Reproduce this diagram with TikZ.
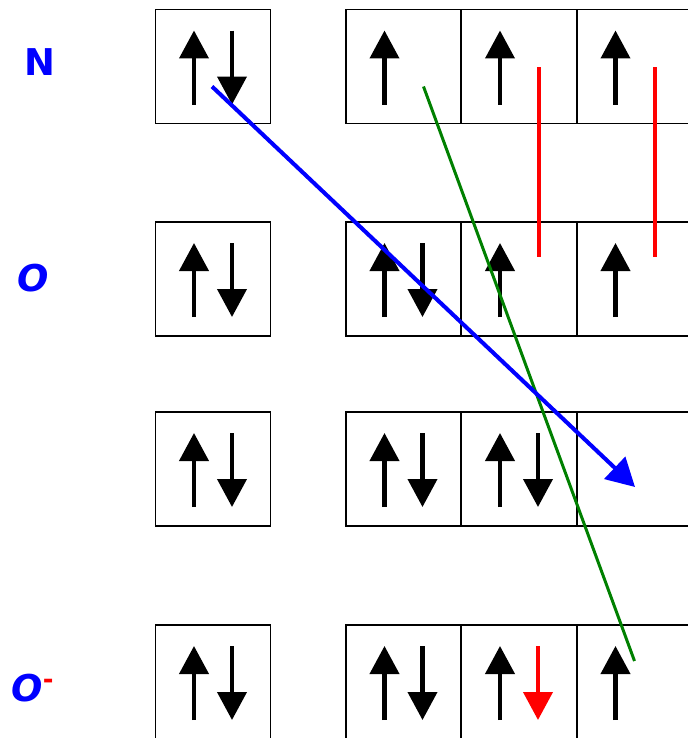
\documentclass[tikz,border=0pt]{standalone}
\usepackage{fontspec}
\setsansfont{DejaVu Sans}
\usepackage{tikz}
\usetikzlibrary{calc,arrows.meta}
\usepackage{xcolor}
\definecolor{spingreen}{RGB}{0,128,0}

\tikzset{
    orbital/.style={draw, line width=1.1pt, minimum width=2.3cm, minimum height=2.28cm, inner sep=0pt},
    spin/.style={line width=2.3pt, -{Triangle[length=0.56cm, width=0.58cm]}},
    atomlabel/.style={blue, font=\sffamily\bfseries\fontsize{21}{24}\selectfont}
}

\begin{document}
\begin{tikzpicture}[x=0.02cm, y=-0.02cm]
    \clip (0,0) rectangle (688,738);
    % Labels
    \node[atomlabel] (labN) at (40,62) {N};
    \node[atomlabel, font=\sffamily\bfseries\itshape\fontsize{21}{24}\selectfont] (labO) at (33,278) {O};
    \node[atomlabel, font=\sffamily\bfseries\itshape\fontsize{21}{24}\selectfont] (labOm) at (33,688)
        {O\textsuperscript{\textcolor{red}{\upshape -}}};
    % 2s boxes
    \node[orbital] (s1) at (213,66.5) {};
    \node[orbital] (s2) at (213,279) {};
    \node[orbital] (s3) at (213,469) {};
    \node[orbital] (s4) at (213,682) {};
    % 2p boxes
    \foreach \r/\y in {1/66.5, 2/279, 3/469, 4/682} {
        \node[orbital] (a\r) at (403.5,\y) {};
        \node[orbital] (b\r) at (519,\y) {};
        \node[orbital] (c\r) at (634.5,\y) {};
    }
    % Electrons
    \foreach \n in {s1,a1,b1,c1,s2,a2,b2,c2,s3,a3,b3,s4,a4,b4,c4}
        \draw[spin] ($(\n)+(-19,38)$) -- ($(\n)+(-19,-36)$);
    \foreach \n in {s1,s2,a2,s3,a3,b3,s4,a4}
        \draw[spin] ($(\n)+(19,-36)$) -- ($(\n)+(19,38)$);
    \draw[spin, red] ($(b4)+(19,-36)$) -- ($(b4)+(19,38)$);
    % Red bars
    \draw[red, line width=2.8pt] ($(b1)+(20,0.5)$) -- ($(b2)+(20,-22)$);
    \draw[red, line width=2.8pt] ($(c1)+(20.5,0.5)$) -- ($(c2)+(20.5,-22)$);
    % Green line
    \draw[spingreen, line width=1.7pt] ($(a1)+(20,20)$) -- ($(c4)+(0,-21)$);
    % Blue arrow
    \draw[blue, line width=2.3pt, -{Triangle[length=0.56cm, width=0.6cm]}]
        ($(s1)+(-1,20)$) -- ($(c3)+(0.5,18)$);
\end{tikzpicture}
\end{document}
